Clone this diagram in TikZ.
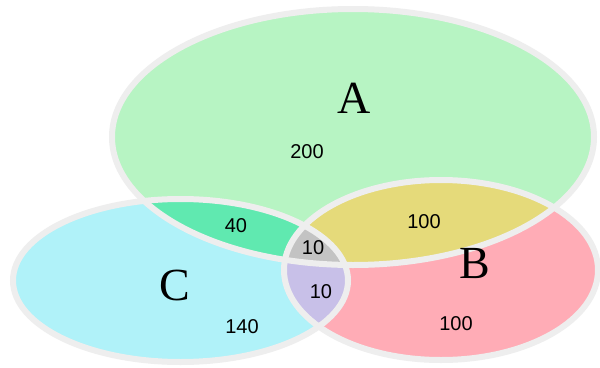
\documentclass[tikz,border=0pt]{standalone}
\usepackage{fontspec}
\setmainfont{Liberation Serif}
\newfontfamily\numfont{Liberation Sans}
\definecolor{fillA}{HTML}{B7F4C3}
\definecolor{fillB}{HTML}{FFACB6}
\definecolor{fillC}{HTML}{B0F2F9}
\definecolor{fillAC}{HTML}{60E9B0}
\definecolor{fillAB}{HTML}{E5DA7A}
\definecolor{fillBC}{HTML}{C8C0E8}
\definecolor{fillABC}{HTML}{C3C3C3}
\definecolor{rim}{HTML}{EEEEEE}
\begin{document}
\begin{tikzpicture}[x=1pt,y=-1pt,
  num/.style={font=\numfont\fontsize{20}{20}\selectfont, inner sep=0pt, anchor=base},
  setname/.style={font=\fontsize{46}{46}\selectfont, inner sep=0pt, anchor=base},
  outline/.style={draw=rim, line width=6pt}]
\useasboundingbox (0,0) rectangle (600,367);
\fill[white] (0,0) rectangle (600,367);
\def\ellA{(353,137) ellipse [x radius=241pt, y radius=128pt]}
\def\ellB{(441,270) ellipse [x radius=157pt, y radius=90pt]}
\def\ellC{(180.5,280.5) ellipse [x radius=167.5pt, y radius=81.5pt]}
% single sets
\fill[fillA] \ellA;
\fill[fillB] \ellB;
\fill[fillC] \ellC;
% B and C
\begin{scope}
  \clip \ellB;
  \fill[fillBC] \ellC;
\end{scope}
% A and C
\begin{scope}
  \clip \ellA;
  \fill[fillAC] \ellC;
\end{scope}
% A and B
\begin{scope}
  \clip \ellA;
  \fill[fillAB] \ellB;
\end{scope}
% A, B and C
\begin{scope}
  \clip \ellA;
  \clip \ellB;
  \fill[fillABC] \ellC;
\end{scope}
% outlines
\path[outline] \ellA;
\path[outline] \ellB;
\path[outline] \ellC;
% labels
\node[setname] (labA) at (354,113) {A};
\node[setname] (labB) at (475,278) {B};
\node[setname] (labC) at (175,300) {C};
\node[num] (nA) at (307,158) {200};
\node[num] (nAC) at (236,232) {40};
\node[num] (nAB) at (424,228) {100};
\node[num] (nABC) at (313,254) {10};
\node[num] (nBC) at (321,298) {10};
\node[num] (nC) at (242,333) {140};
\node[num] (nB) at (456,330) {100};
\end{tikzpicture}
\end{document}
